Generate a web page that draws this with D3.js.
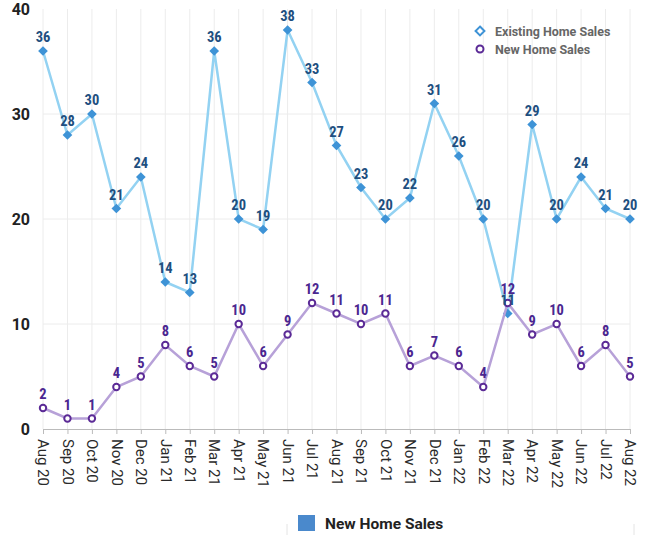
<!DOCTYPE html>
<html>
<head>
<meta charset="utf-8">
<script src="https://cdn.jsdelivr.net/npm/d3@7"></script>
<style>
  body { margin: 0; background: #fff; }
  svg { font-family: Roboto, "Noto Sans", sans-serif; }
</style>
</head>
<body>
<svg id="chart"></svg>
<script>
const width = 646;
const height = 535;

const months = ["Aug 20", "Sep 20", "Oct 20", "Nov 20", "Dec 20", "Jan 21", "Feb 21", "Mar 21",
  "Apr 21", "May 21", "Jun 21", "Jul 21", "Aug 21", "Sep 21", "Oct 21", "Nov 21", "Dec 21",
  "Jan 22", "Feb 22", "Mar 22", "Apr 22", "May 22", "Jun 22", "Jul 22", "Aug 22"];
const existingSales = [36, 28, 30, 21, 24, 14, 13, 36, 20, 19, 38, 33, 27, 23, 20, 22, 31, 26, 20, 11, 29, 20, 24, 21, 20];
const newSales = [2, 1, 1, 4, 5, 8, 6, 5, 10, 6, 9, 12, 11, 10, 11, 6, 7, 6, 4, 12, 9, 10, 6, 8, 5];
const yTicks = [0, 10, 20, 30, 40];

const svg = d3.select("#chart")
  .attr("width", width)
  .attr("height", height);

const x = d3.scalePoint()
  .domain(months)
  .range([43, 630]);

const y = d3.scaleLinear()
  .domain([0, 40])
  .range([429, 9]);

// grid
svg.append("g")
  .selectAll("line")
  .data(months)
  .join("line")
  .attr("x1", d => x(d))
  .attr("x2", d => x(d))
  .attr("y1", y(40))
  .attr("y2", y(0))
  .attr("stroke", "#ececec")
  .attr("stroke-width", 1);

svg.append("g")
  .selectAll("line")
  .data(yTicks.filter(d => d > 0 && d < 40))
  .join("line")
  .attr("x1", x(months[0]))
  .attr("x2", x(months[months.length - 1]))
  .attr("y1", d => y(d))
  .attr("y2", d => y(d))
  .attr("stroke", "#ececec")
  .attr("stroke-width", 1);

// y axis labels
svg.append("g")
  .selectAll("text")
  .data(yTicks)
  .join("text")
  .attr("x", 30)
  .attr("y", d => y(d) + 6)
  .attr("text-anchor", "end")
  .style("font-size", "16px")
  .style("font-weight", 700)
  .style("fill", "#222")
  .text(d => d);

// x axis
const xAxis = svg.append("g")
  .attr("transform", `translate(0,${y(0)})`)
  .call(d3.axisBottom(x).tickSize(5).tickPadding(6));
xAxis.select(".domain").attr("stroke", "#bbb");
xAxis.selectAll(".tick line").attr("stroke", "#bbb");
xAxis.selectAll(".tick text")
  .attr("transform", "rotate(90)")
  .attr("x", 10)
  .attr("y", 0)
  .attr("dy", "0.35em")
  .attr("text-anchor", "start")
  .style("font-size", "15px")
  .style("font-family", "Roboto, sans-serif")
  .style("fill", "#2a2a2a");

// existing home sales
const lineExisting = d3.line()
  .x((d, i) => x(months[i]))
  .y(d => y(d));

svg.append("path")
  .datum(existingSales)
  .attr("d", lineExisting)
  .attr("fill", "none")
  .attr("stroke", "#93d2f2")
  .attr("stroke-width", 2.5);

const diamond = d3.symbol().type(d3.symbolDiamond2).size(60);

svg.append("g")
  .selectAll("path")
  .data(existingSales)
  .join("path")
  .attr("d", diamond)
  .attr("transform", (d, i) => `translate(${x(months[i])},${y(d)})`)
  .attr("fill", "#3e93d6");

// new home sales
svg.append("path")
  .datum(newSales)
  .attr("d", lineExisting)
  .attr("fill", "none")
  .attr("stroke", "#b7a1d8")
  .attr("stroke-width", 2.5);

svg.append("g")
  .selectAll("circle")
  .data(newSales)
  .join("circle")
  .attr("cx", (d, i) => x(months[i]))
  .attr("cy", d => y(d))
  .attr("r", 3.2)
  .attr("fill", "#fff")
  .attr("stroke", "#5b2a96")
  .attr("stroke-width", 2);

// labels
svg.append("g")
  .selectAll("text")
  .data(existingSales)
  .join("text")
  .attr("x", (d, i) => x(months[i]))
  .attr("y", d => y(d) - 9)
  .attr("text-anchor", "middle")
  .style("font-size", "14.5px")
  .style("font-weight", 700)
  .style("font-stretch", "condensed")
  .style("fill", "#1e4f7f")
  .text(d => d);

svg.append("g")
  .selectAll("text")
  .data(newSales)
  .join("text")
  .attr("x", (d, i) => x(months[i]))
  .attr("y", d => y(d) - 9)
  .attr("text-anchor", "middle")
  .style("font-size", "14.5px")
  .style("font-weight", 700)
  .style("font-stretch", "condensed")
  .style("fill", "#4a2690")
  .text(d => d);

// top legend
const legend = svg.append("g").attr("transform", "translate(480,31)");
legend.append("path")
  .attr("d", d3.symbol().type(d3.symbolDiamond2).size(50))
  .attr("fill", "#fff")
  .attr("stroke", "#3e93d6")
  .attr("stroke-width", 2);
legend.append("text")
  .attr("x", 15)
  .attr("y", 5)
  .style("font-size", "12.5px")
  .style("font-weight", 700)
  .style("fill", "#666")
  .text("Existing Home Sales");
legend.append("circle")
  .attr("cx", 0)
  .attr("cy", 18)
  .attr("r", 3.5)
  .attr("fill", "#fff")
  .attr("stroke", "#5b2a96")
  .attr("stroke-width", 2);
legend.append("text")
  .attr("x", 15)
  .attr("y", 23)
  .style("font-size", "12.5px")
  .style("font-weight", 700)
  .style("fill", "#666")
  .text("New Home Sales");

// bottom legend
svg.append("line")
  .attr("x1", 287).attr("x2", 287)
  .attr("y1", 524).attr("y2", 535)
  .attr("stroke", "#e4e4e4");
svg.append("line")
  .attr("x1", 634).attr("x2", 634)
  .attr("y1", 524).attr("y2", 535)
  .attr("stroke", "#e4e4e4");
svg.append("rect")
  .attr("x", 298)
  .attr("y", 515)
  .attr("width", 17)
  .attr("height", 16)
  .attr("fill", "#4a89cc");
svg.append("text")
  .attr("x", 325)
  .attr("y", 529)
  .style("font-size", "15.5px")
  .style("font-weight", 700)
  .style("fill", "#222")
  .text("New Home Sales");
</script>
</body>
</html>
